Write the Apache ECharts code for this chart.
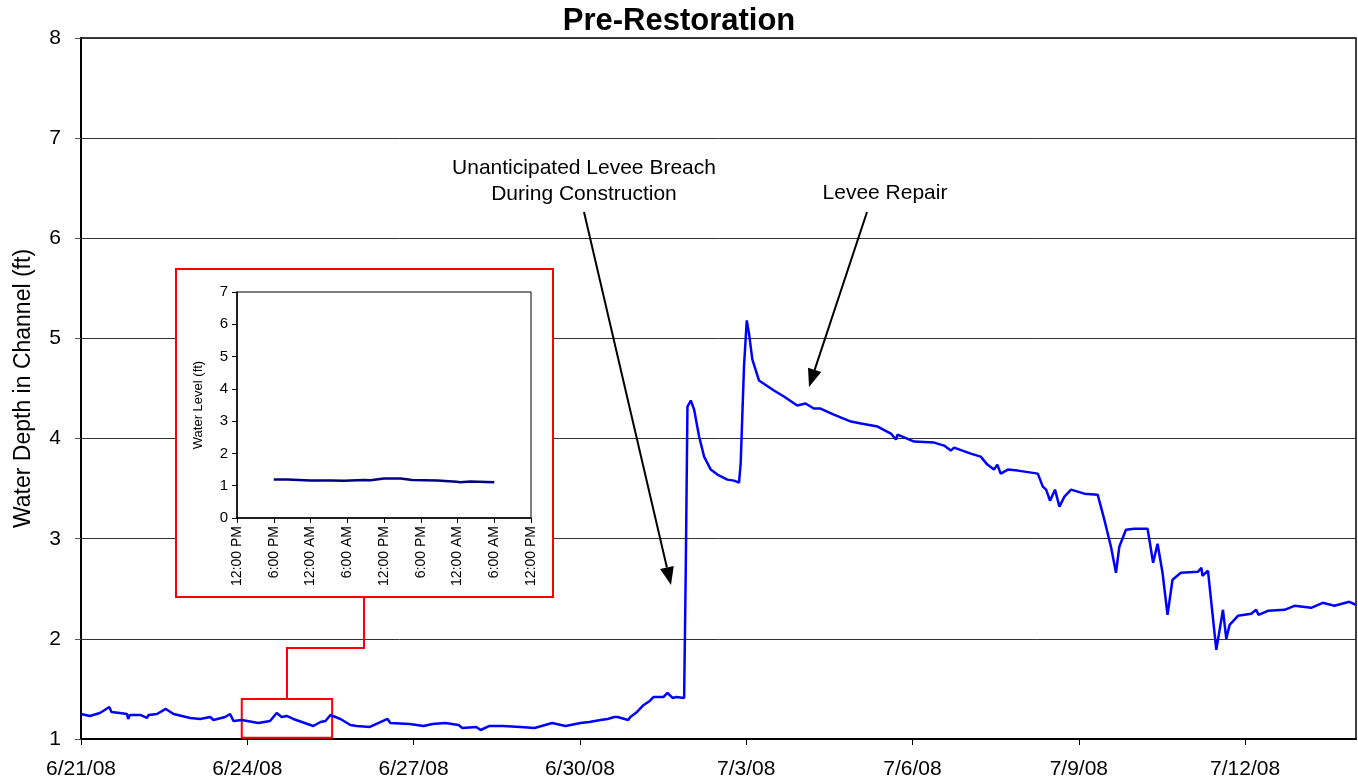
<!DOCTYPE html>
<html>
<head>
<meta charset="utf-8">
<title>Pre-Restoration</title>
<script src="https://cdn.jsdelivr.net/npm/echarts@6/dist/echarts.min.js"></script>
<style>
  html, body { margin: 0; padding: 0; background: #fff; }
  #chart { width: 1358px; height: 782px; }
</style>
</head>
<body>
<div id="chart"></div>
<script>
// days since 6/21/08 00:00 and water depth (ft)
const dayOffsets = [
  0.00, 0.16, 0.34, 0.40, 0.51, 0.55, 0.70, 0.83, 0.85, 0.88,
  1.07, 1.19, 1.22, 1.37, 1.53, 1.67, 1.97, 2.15, 2.33, 2.39,
  2.60, 2.69, 2.75, 2.90, 3.20, 3.41, 3.53, 3.62, 3.71, 3.83,
  4.19, 4.32, 4.41, 4.50, 4.68, 4.86, 4.97, 5.21, 5.37, 5.53,
  5.58, 5.93, 6.18, 6.34, 6.57, 6.81, 6.88, 7.13, 7.21, 7.37,
  7.61, 7.93, 8.18, 8.50, 8.74, 9.01, 9.17, 9.37, 9.50, 9.62,
  9.68, 9.87, 9.91, 10.03, 10.15, 10.26, 10.33, 10.42, 10.51, 10.58,
  10.67, 10.74, 10.88, 10.91, 10.94, 11.00, 11.06, 11.15, 11.24, 11.36,
  11.48, 11.66, 11.78, 11.87, 11.90, 11.96, 12.01, 12.05, 12.11, 12.23,
  12.50, 12.68, 12.92, 13.07, 13.22, 13.34, 13.58, 13.89, 14.07, 14.37,
  14.61, 14.70, 14.73, 15.03, 15.39, 15.57, 15.69, 15.75, 16.05, 16.23,
  16.35, 16.47, 16.53, 16.59, 16.72, 16.90, 17.26, 17.35, 17.41, 17.48,
  17.57, 17.65, 17.74, 17.86, 18.10, 18.34, 18.46, 18.58, 18.67, 18.73,
  18.85, 19.00, 19.24, 19.27, 19.34, 19.42, 19.51, 19.60, 19.69, 19.84,
  20.15, 20.21, 20.23, 20.33, 20.48, 20.60, 20.66, 20.72, 20.87, 21.11,
  21.20, 21.24, 21.41, 21.71, 21.89, 22.19, 22.40, 22.61, 22.88, 23.00
];
const depthFt = [
  1.25, 1.23, 1.26, 1.28, 1.32, 1.27, 1.26, 1.25, 1.20, 1.24,
  1.24, 1.21, 1.24, 1.25, 1.30, 1.25, 1.21, 1.20, 1.22, 1.19,
  1.22, 1.25, 1.18, 1.19, 1.16, 1.18, 1.26, 1.22, 1.23, 1.20,
  1.13, 1.17, 1.18, 1.24, 1.20, 1.14, 1.13, 1.12, 1.16, 1.20,
  1.16, 1.15, 1.13, 1.15, 1.16, 1.14, 1.11, 1.12, 1.09, 1.13,
  1.13, 1.12, 1.11, 1.16, 1.13, 1.16, 1.17, 1.19, 1.20, 1.22,
  1.22, 1.19, 1.22, 1.27, 1.34, 1.38, 1.42, 1.42, 1.42, 1.46,
  1.41, 1.42, 1.41, 2.72, 4.32, 4.38, 4.29, 4.02, 3.82, 3.69,
  3.64, 3.59, 3.58, 3.56, 3.75, 4.72, 5.18, 5.05, 4.79, 4.58,
  4.48, 4.42, 4.33, 4.35, 4.30, 4.30, 4.24, 4.17, 4.15, 4.12,
  4.05, 3.99, 4.04, 3.97, 3.96, 3.93, 3.88, 3.91, 3.85, 3.82,
  3.74, 3.69, 3.74, 3.65, 3.69, 3.68, 3.65, 3.52, 3.49, 3.38,
  3.49, 3.32, 3.42, 3.49, 3.45, 3.44, 3.19, 2.92, 2.66, 2.92,
  3.09, 3.10, 3.10, 3.00, 2.76, 2.95, 2.66, 2.24, 2.59, 2.66,
  2.67, 2.71, 2.63, 2.68, 1.89, 2.29, 2.00, 2.14, 2.23, 2.25,
  2.29, 2.24, 2.28, 2.29, 2.33, 2.31, 2.36, 2.33, 2.37, 2.34
];
const dateTicks = [0, 3, 6, 9, 12, 15, 18, 21];

// inset: hours after 12:00 PM and water level (ft)
const insetHours = [6, 8.25, 12, 15.3, 17.5, 20.7, 21.8, 24, 26.7, 28.6, 28.9, 32.7, 35.9, 36.4, 38.1, 42];
const insetLevel = [1.19, 1.19, 1.16, 1.16, 1.15, 1.18, 1.17, 1.22, 1.22, 1.18, 1.20, 1.16, 1.12, 1.11, 1.13, 1.11];
const insetTickLabels = ['12:00 PM', '6:00 PM', '12:00 AM', '6:00 AM', '12:00 PM', '6:00 PM', '12:00 AM', '6:00 AM', '12:00 PM'];

const FONT = '"Liberation Sans", Arial, sans-serif';

const dateLabel = v => {
  const d = new Date(2008, 5, 21 + v);
  return (d.getMonth() + 1) + '/' + d.getDate() + '/08';
};

// straight arrow with a filled head, for the call-outs
const arrow = (x1, y1, x2, y2) => {
  const len = 18, half = 7;
  const a = Math.atan2(y2 - y1, x2 - x1);
  const bx = x2 - len * Math.cos(a), by = y2 - len * Math.sin(a);
  const px = -Math.sin(a) * half, py = Math.cos(a) * half;
  return [
    { type: 'line', z: 20, shape: { x1: x1, y1: y1, x2: bx, y2: by }, style: { stroke: '#000', lineWidth: 2 } },
    { type: 'polygon', z: 20, shape: { points: [[x2, y2], [bx + px, by + py], [bx - px, by - py]] }, style: { fill: '#000' } }
  ];
};

const chart = echarts.init(document.getElementById('chart'));

chart.setOption({
  backgroundColor: '#fff',
  animation: false,
  title: {
    text: 'Pre-Restoration',
    left: 'center',
    top: 1,
    textStyle: { fontFamily: FONT, fontSize: 31, fontWeight: 'bold', color: '#000' }
  },
  grid: [
    { left: 81, right: 2, top: 38, bottom: 43, show: true, borderColor: '#000', borderWidth: 1.5, backgroundColor: 'transparent' },
    { left: 237, top: 292, width: 294, height: 226, show: true, borderColor: '#000', borderWidth: 1, z: 10 }
  ],
  xAxis: [
    {
      type: 'value', gridIndex: 0, min: 0, max: 23, interval: 3,
      axisLine: { lineStyle: { color: '#000', width: 2 } },
      axisTick: { show: true, length: 6, lineStyle: { color: '#000' }, customValues: dateTicks },
      axisLabel: { customValues: dateTicks, formatter: dateLabel, fontFamily: FONT, fontSize: 21, color: '#000', margin: 20 },
      splitLine: { show: false }
    },
    {
      type: 'value', gridIndex: 1, min: 0, max: 48, interval: 6, z: 10,
      axisLine: { onZero: false, lineStyle: { color: '#000', width: 1.5 } },
      axisTick: { show: true, length: 5, lineStyle: { color: '#000' } },
      axisLabel: { rotate: 90, formatter: v => insetTickLabels[Math.round(v / 6)], fontFamily: FONT, fontSize: 14, color: '#000', margin: 8 },
      splitLine: { show: false }
    }
  ],
  yAxis: [
    {
      type: 'value', gridIndex: 0, min: 1, max: 8, interval: 1,
      name: 'Water Depth in Channel (ft)', nameLocation: 'middle', nameGap: 46,
      nameTextStyle: { fontFamily: FONT, fontSize: 23, color: '#000' },
      axisLine: { show: true, lineStyle: { color: '#000', width: 2 } },
      axisTick: { show: true, length: 6, lineStyle: { color: '#555' } },
      axisLabel: { fontFamily: FONT, fontSize: 21, color: '#000', margin: 20 },
      splitLine: { show: true, lineStyle: { color: '#333', width: 1 } }
    },
    {
      type: 'value', gridIndex: 1, min: 0, max: 7, interval: 1, z: 10,
      name: 'Water Level (ft)', nameLocation: 'middle', nameGap: 32,
      nameTextStyle: { fontFamily: FONT, fontSize: 13, color: '#000' },
      axisLine: { show: true, onZero: false, lineStyle: { color: '#000', width: 1.5 } },
      axisTick: { show: true, length: 5, lineStyle: { color: '#000' } },
      axisLabel: { fontFamily: FONT, fontSize: 15, color: '#000', margin: 9 },
      splitLine: { show: false }
    }
  ],
  series: [
    {
      type: 'line',
      xAxisIndex: 0, yAxisIndex: 0,
      data: dayOffsets.map((d, i) => [d, depthFt[i]]),
      showSymbol: false,
      lineStyle: { color: '#0000ff', width: 2.5 },
      z: 3,
      markArea: {
        silent: true,
        itemStyle: { color: 'rgba(0,0,0,0)', borderColor: '#ff0000', borderWidth: 2 },
        data: [[{ coord: [2.90, 1.40] }, { coord: [4.53, 1.013] }]]
      }
    },
    {
      type: 'line',
      xAxisIndex: 1, yAxisIndex: 1,
      data: insetHours.map((h, i) => [h, insetLevel[i]]),
      showSymbol: false,
      lineStyle: { color: '#000080', width: 2.5 },
      z: 12
    }
  ],
  graphic: [
    { type: 'rect', z: 5, shape: { x: 176, y: 269, width: 377, height: 328 }, style: { fill: '#fff', stroke: '#ff0000', lineWidth: 2 } },
    { type: 'polyline', z: 5, shape: { points: [[287, 699], [287, 648], [364, 648], [364, 597]] }, style: { stroke: '#ff0000', lineWidth: 2, fill: null } },
    ...arrow(584, 212, 671, 585),
    ...arrow(867, 212, 809, 387),
    { type: 'text', z: 20, x: 584, y: 168, style: { text: 'Unanticipated Levee Breach', font: '21px ' + FONT, fill: '#000', align: 'center', verticalAlign: 'middle' } },
    { type: 'text', z: 20, x: 584, y: 194, style: { text: 'During Construction', font: '21px ' + FONT, fill: '#000', align: 'center', verticalAlign: 'middle' } },
    { type: 'text', z: 20, x: 885, y: 193, style: { text: 'Levee Repair', font: '21px ' + FONT, fill: '#000', align: 'center', verticalAlign: 'middle' } }
  ]
});
</script>
</body>
</html>
